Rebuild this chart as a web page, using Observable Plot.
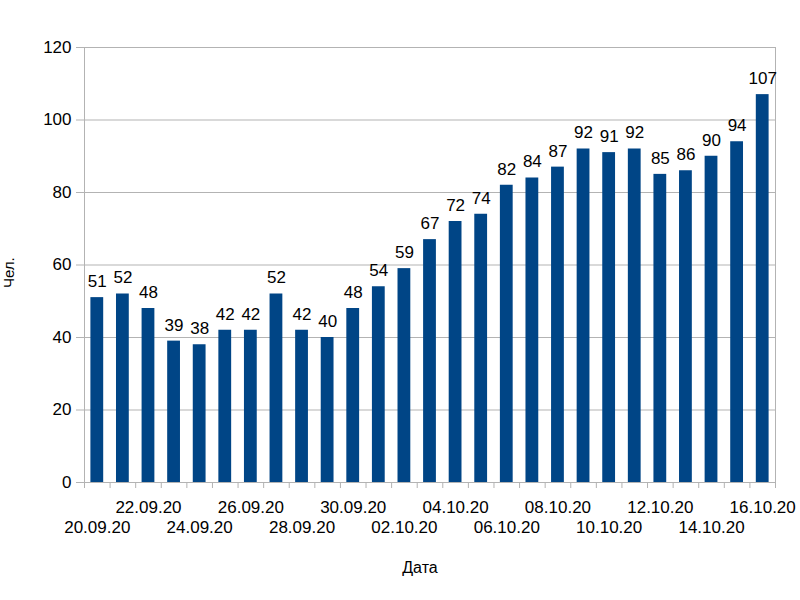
<!DOCTYPE html>
<html>
<head>
<meta charset="utf-8">
<script src="https://cdn.jsdelivr.net/npm/d3@7"></script>
<script src="https://cdn.jsdelivr.net/npm/@observablehq/plot@0.6"></script>
<style>
  html, body { margin: 0; padding: 0; background: #fff; }
  #chart { width: 800px; height: 600px; }
  svg { font-family: "Liberation Sans", Arial, sans-serif; }
</style>
</head>
<body>
<div id="chart"></div>
<script>
const dates = ["20.09.20","21.09.20","22.09.20","23.09.20","24.09.20","25.09.20","26.09.20","27.09.20","28.09.20","29.09.20","30.09.20","01.10.20","02.10.20","03.10.20","04.10.20","05.10.20","06.10.20","07.10.20","08.10.20","09.10.20","10.10.20","11.10.20","12.10.20","13.10.20","14.10.20","15.10.20","16.10.20"];
const values = [51,52,48,39,38,42,42,52,42,40,48,54,59,67,72,74,82,84,87,92,91,92,85,86,90,94,107];
const yTicks = [0,20,40,60,80,100,120];
const yLabel = "Чел.";
const xLabel = "Дата";

const data = dates.map((d, i) => ({date: d, value: values[i]}));
const lowerLabels = dates.filter((d, i) => i % 4 === 0);
const upperLabels = dates.filter((d, i) => i % 4 === 2);

const W = 800, H = 600, ML = 84, MR = 25, MT = 47, MB = 118;
const step = (W - ML - MR) / dates.length;
const grid = "#b3b3b3";

const chart = Plot.plot({
  width: W, height: H,
  marginLeft: ML, marginRight: MR, marginTop: MT, marginBottom: MB,
  style: {fontFamily: "'Liberation Sans', Arial, sans-serif", fontSize: "17px", color: "#000", background: "#fff"},
  x: {type: "band", domain: dates, padding: 0, round: false, label: null},
  y: {domain: [0, 120], label: null},
  marks: [
    Plot.gridY({ticks: yTicks, stroke: grid, strokeOpacity: 1}),
    Plot.frame({stroke: grid}),
    Plot.axisY({ticks: yTicks, tickSize: 8, tickPadding: 5, stroke: grid, fill: "#000", fontSize: 17, label: null}),
    Plot.axisX(dates, {tickSize: 6, fill: "none", stroke: grid, dx: -step / 2, label: null}),
    Plot.axisX([dates[dates.length - 1]], {tickSize: 6, fill: "none", stroke: grid, dx: step / 2, label: null}),
    Plot.axisX(upperLabels, {tickSize: 0, tickPadding: 18, fill: "#000", fontSize: 17, label: null}),
    Plot.axisX(lowerLabels, {tickSize: 0, tickPadding: 38, fill: "#000", fontSize: 17, label: null}),
    Plot.barY(data, {x: "date", y: "value", fill: "#004586", insetLeft: step / 4, insetRight: step / 4}),
    Plot.text(data, {x: "date", y: "value", text: d => String(d.value), lineAnchor: "middle", dy: -16, fontSize: 17, fill: "#000"}),
    Plot.text([yLabel], {text: d => d, frameAnchor: "left", rotate: -90, dx: -75, dy: 23, fontSize: 15, fill: "#000"}),
    Plot.text([xLabel], {text: d => d, frameAnchor: "bottom", lineAnchor: "middle", dx: -10, dy: 85, fontSize: 16, fill: "#000"})
  ]
});
document.getElementById("chart").appendChild(chart);
</script>
</body>
</html>
